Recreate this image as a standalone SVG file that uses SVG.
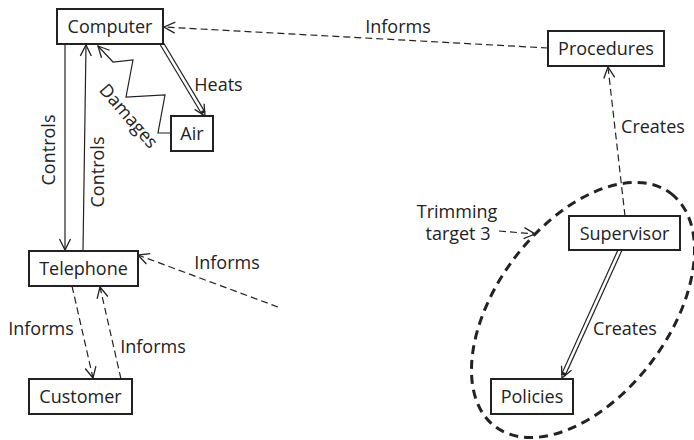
<svg xmlns="http://www.w3.org/2000/svg" width="694" height="440" viewBox="0 0 694 440">
  <style>
    .box { fill: #ffffff; stroke: #222222; stroke-width: 2; }
    .label { font-family: "Open Sans", "Liberation Sans", sans-serif; font-size: 18px; fill: #222222; text-anchor: middle; }
    .line { fill: none; stroke: #222222; stroke-width: 1.2; }
    .dash { stroke-dasharray: 7 4; }
    .dbl-out { fill: none; stroke: #222222; stroke-width: 5; }
    .dbl-in { fill: none; stroke: #ffffff; stroke-width: 2.6; }
    .group-outline { fill: none; stroke: #222222; stroke-width: 3; stroke-dasharray: 9 6; }
  </style>
  <defs>
    <marker id="open-arrow" markerUnits="userSpaceOnUse" markerWidth="16" markerHeight="16" viewBox="-13 -8 16 16" refX="0" refY="0" orient="auto" overflow="visible">
      <path d="M-11,-5.5 L0,0 L-11,5.5" fill="none" stroke="#222222" stroke-width="1.3"/>
    </marker>
  </defs>
  <rect width="694" height="440" fill="#ffffff"/>

  <!-- grouping outline round Supervisor and Policies -->
  <ellipse class="group-outline" cx="583" cy="310" rx="146" ry="86" transform="rotate(-53 583 310)"/>

  <g id="connectors">
    <!-- Procedures informs Computer -->
    <path class="line dash" d="M548,48 L164,27" marker-end="url(#open-arrow)"/>
    <text class="label" x="398" y="33">Informs</text>

    <!-- Computer heats Air (double line) -->
    <path class="dbl-out" d="M162,44 L203.5,113.3"/>
    <path class="dbl-in" d="M162,44 L202,110.8"/>
    <path class="line" d="M162,44 L205,116" marker-end="url(#open-arrow)" stroke-opacity="0"/>
    <text class="label" x="218.5" y="91">Heats</text>

    <!-- Air damages Computer (zigzag) -->
    <path class="line" d="M171,133 L158,133 L165,95 L126,97 L133,60 L113,62 L98,46" marker-end="url(#open-arrow)"/>
    <text class="label" transform="translate(124,120) rotate(49)">Damages</text>

    <!-- Computer controls Telephone -->
    <path class="line" d="M65,44 L65,250" marker-end="url(#open-arrow)"/>
    <text class="label" transform="translate(55,150) rotate(-90)">Controls</text>

    <!-- Telephone controls Computer -->
    <path class="line" d="M83,251 L86,45" marker-end="url(#open-arrow)"/>
    <text class="label" transform="translate(104,172) rotate(-90)">Controls</text>

    <!-- Telephone informs Customer -->
    <path class="line dash" d="M72,286 L93,378" marker-end="url(#open-arrow)"/>
    <text class="label" x="41" y="335">Informs</text>

    <!-- Customer informs Telephone -->
    <path class="line dash" d="M121,379 L100,287" marker-end="url(#open-arrow)"/>
    <text class="label" x="153" y="353">Informs</text>

    <!-- incoming informs to Telephone -->
    <path class="line dash" d="M278,307 L138,255" marker-end="url(#open-arrow)"/>
    <text class="label" x="227" y="269">Informs</text>

    <!-- Supervisor creates Procedures -->
    <path class="line dash" d="M625,216 L608,67" marker-end="url(#open-arrow)"/>
    <text class="label" x="653" y="133">Creates</text>

    <!-- Supervisor creates Policies (double line) -->
    <path class="dbl-out" d="M620,250 L563.2,375.2"/>
    <path class="dbl-in" d="M620,250 L564.4,372.5"/>
    <path class="line" d="M620,250 L562,378" marker-end="url(#open-arrow)" stroke-opacity="0"/>
    <text class="label" x="625" y="335">Creates</text>

    <!-- note pointing at the outline -->
    <path class="line dash" d="M499,231 L535,234" marker-end="url(#open-arrow)"/>
    <text class="label" x="457" y="218">Trimming</text>
    <text class="label" x="458" y="240">target 3</text>
  </g>

  <g id="computer">
    <rect class="box" x="57" y="9" width="106" height="35"/>
    <text class="label" x="110" y="33">Computer</text>
  </g>
  <g id="air">
    <rect class="box" x="171" y="116" width="42" height="35"/>
    <text class="label" x="192" y="140">Air</text>
  </g>
  <g id="telephone">
    <rect class="box" x="29" y="251" width="109" height="35"/>
    <text class="label" x="83.5" y="275">Telephone</text>
  </g>
  <g id="customer">
    <rect class="box" x="29" y="379" width="103" height="35"/>
    <text class="label" x="80.5" y="403">Customer</text>
  </g>
  <g id="procedures">
    <rect class="box" x="548" y="31" width="116" height="35"/>
    <text class="label" x="606" y="55">Procedures</text>
  </g>
  <g id="supervisor">
    <rect class="box" x="569" y="216" width="111" height="34"/>
    <text class="label" x="624.5" y="240">Supervisor</text>
  </g>
  <g id="policies">
    <rect class="box" x="491" y="379" width="82" height="35"/>
    <text class="label" x="532" y="403">Policies</text>
  </g>
</svg>
